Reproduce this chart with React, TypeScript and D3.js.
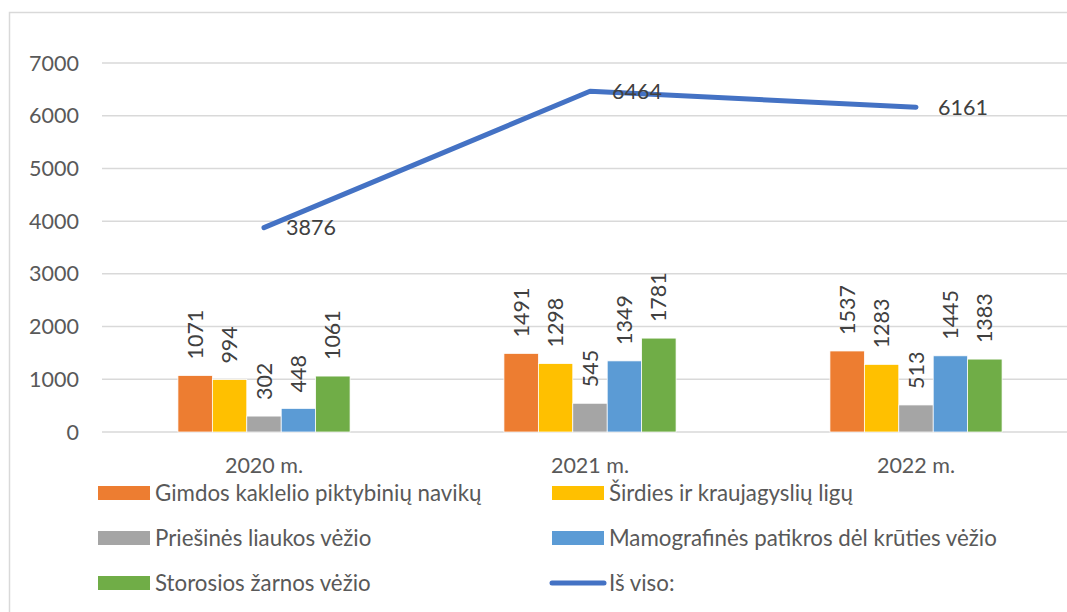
import * as d3 from "d3";

const years = ["2020 m.", "2021 m.", "2022 m."];
const seriesNames = [
  "Gimdos kaklelio piktybinių navikų",
  "Širdies ir kraujagyslių ligų",
  "Priešinės liaukos vėžio",
  "Mamografinės patikros dėl krūties vėžio",
  "Storosios žarnos vėžio",
];
const gimdos = [1071, 1491, 1537];
const sirdies = [994, 1298, 1283];
const priesines = [302, 545, 513];
const mamografines = [448, 1349, 1445];
const storosios = [1061, 1781, 1383];
const totalName = "Iš viso:";
const totals = [3876, 6464, 6161];
const yTicks = [0, 1000, 2000, 3000, 4000, 5000, 6000, 7000];

const colors = ["#ED7D31", "#FFC000", "#A5A5A5", "#5B9BD5", "#70AD47"];
const lineColor = "#4472C4";
const font = "Lato, 'Open Sans', sans-serif";
const fs = 21.5;
const legendFs = 22.3;

export default function App() {
  const width = 1067;
  const height = 612;
  const series = [gimdos, sirdies, priesines, mamografines, storosios];

  const x0 = d3.scaleBand().domain(years).range([101, 1079]).paddingInner(0.472).paddingOuter(0.236);
  const x1 = d3.scaleBand().domain(seriesNames).range([0, x0.bandwidth()]);
  const y = d3.scaleLinear().domain([0, 7000]).range([432, 63]);

  const line = d3
    .line<number>()
    .x((_, i) => x0(years[i])! + x0.bandwidth() / 2)
    .y((d) => y(d));

  const legendItems = [
    { name: seriesNames[0], color: colors[0], x: 98, row: 0, kind: "rect" },
    { name: seriesNames[1], color: colors[1], x: 552, row: 0, kind: "rect" },
    { name: seriesNames[2], color: colors[2], x: 98, row: 1, kind: "rect" },
    { name: seriesNames[3], color: colors[3], x: 552, row: 1, kind: "rect" },
    { name: seriesNames[4], color: colors[4], x: 98, row: 2, kind: "rect" },
    { name: totalName, color: lineColor, x: 552, row: 2, kind: "line" },
  ];
  const rowY = [493, 538, 583];

  return (
    <svg
      width={width}
      height={height}
      style={{ position: "absolute", left: 0, top: 0, background: "#fff" }}
      fontFamily={font}
    >
      <rect x={9.5} y={12.5} width={1100} height={700} fill="#fff" stroke="#D9D9D9" strokeWidth={1.5} />
      {yTicks.map((t) => (
        <g key={t}>
          <line x1={102} x2={1080} y1={y(t)} y2={y(t)} stroke="#D9D9D9" strokeWidth={1.5} />
          <text x={79} y={y(t)} dy="0.35em" textAnchor="end" fontSize={fs} fill="#595959">
            {t}
          </text>
        </g>
      ))}
      {years.map((yr, i) => (
        <g key={yr} transform={`translate(${x0(yr)},0)`}>
          {series.map((s, j) => (
            <rect
              key={j}
              x={x1(seriesNames[j])}
              y={y(s[i])}
              width={x1.bandwidth()}
              height={y(0) - y(s[i])}
              fill={colors[j]}
              stroke="#fff"
              strokeWidth={0.75}
            />
          ))}
          {series.map((s, j) => {
            const cx = x1(seriesNames[j])! + x1.bandwidth() / 2;
            const ty = y(s[i]) - 16;
            return (
              <text
                key={"l" + j}
                transform={`translate(${cx},${ty}) rotate(-90)`}
                dy="0.35em"
                textAnchor="start"
                fontSize={fs}
                fill="#404040"
              >
                {s[i]}
              </text>
            );
          })}
          <text x={x0.bandwidth() / 2} y={473} textAnchor="middle" fontSize={fs} fill="#595959">
            {yr}
          </text>
        </g>
      ))}
      <path d={line(totals) ?? ""} fill="none" stroke={lineColor} strokeWidth={5} strokeLinecap="round" strokeLinejoin="round" />
      {totals.map((v, i) => (
        <text
          key={i}
          x={x0(years[i])! + x0.bandwidth() / 2 + 22}
          y={y(v)}
          dy="0.35em"
          fontSize={fs}
          fill="#404040"
        >
          {v}
        </text>
      ))}
      {legendItems.map((it) => (
        <g key={it.name}>
          {it.kind === "rect" ? (
            <rect x={it.x} y={rowY[it.row] - 7} width={52} height={14} fill={it.color} />
          ) : (
            <line x1={it.x} x2={it.x + 52} y1={rowY[it.row]} y2={rowY[it.row]} stroke={it.color} strokeWidth={5} strokeLinecap="round" />
          )}
          <text x={it.x + 57} y={rowY[it.row]} dy="0.35em" fontSize={legendFs} fill="#595959">
            {it.name}
          </text>
        </g>
      ))}
    </svg>
  );
}
